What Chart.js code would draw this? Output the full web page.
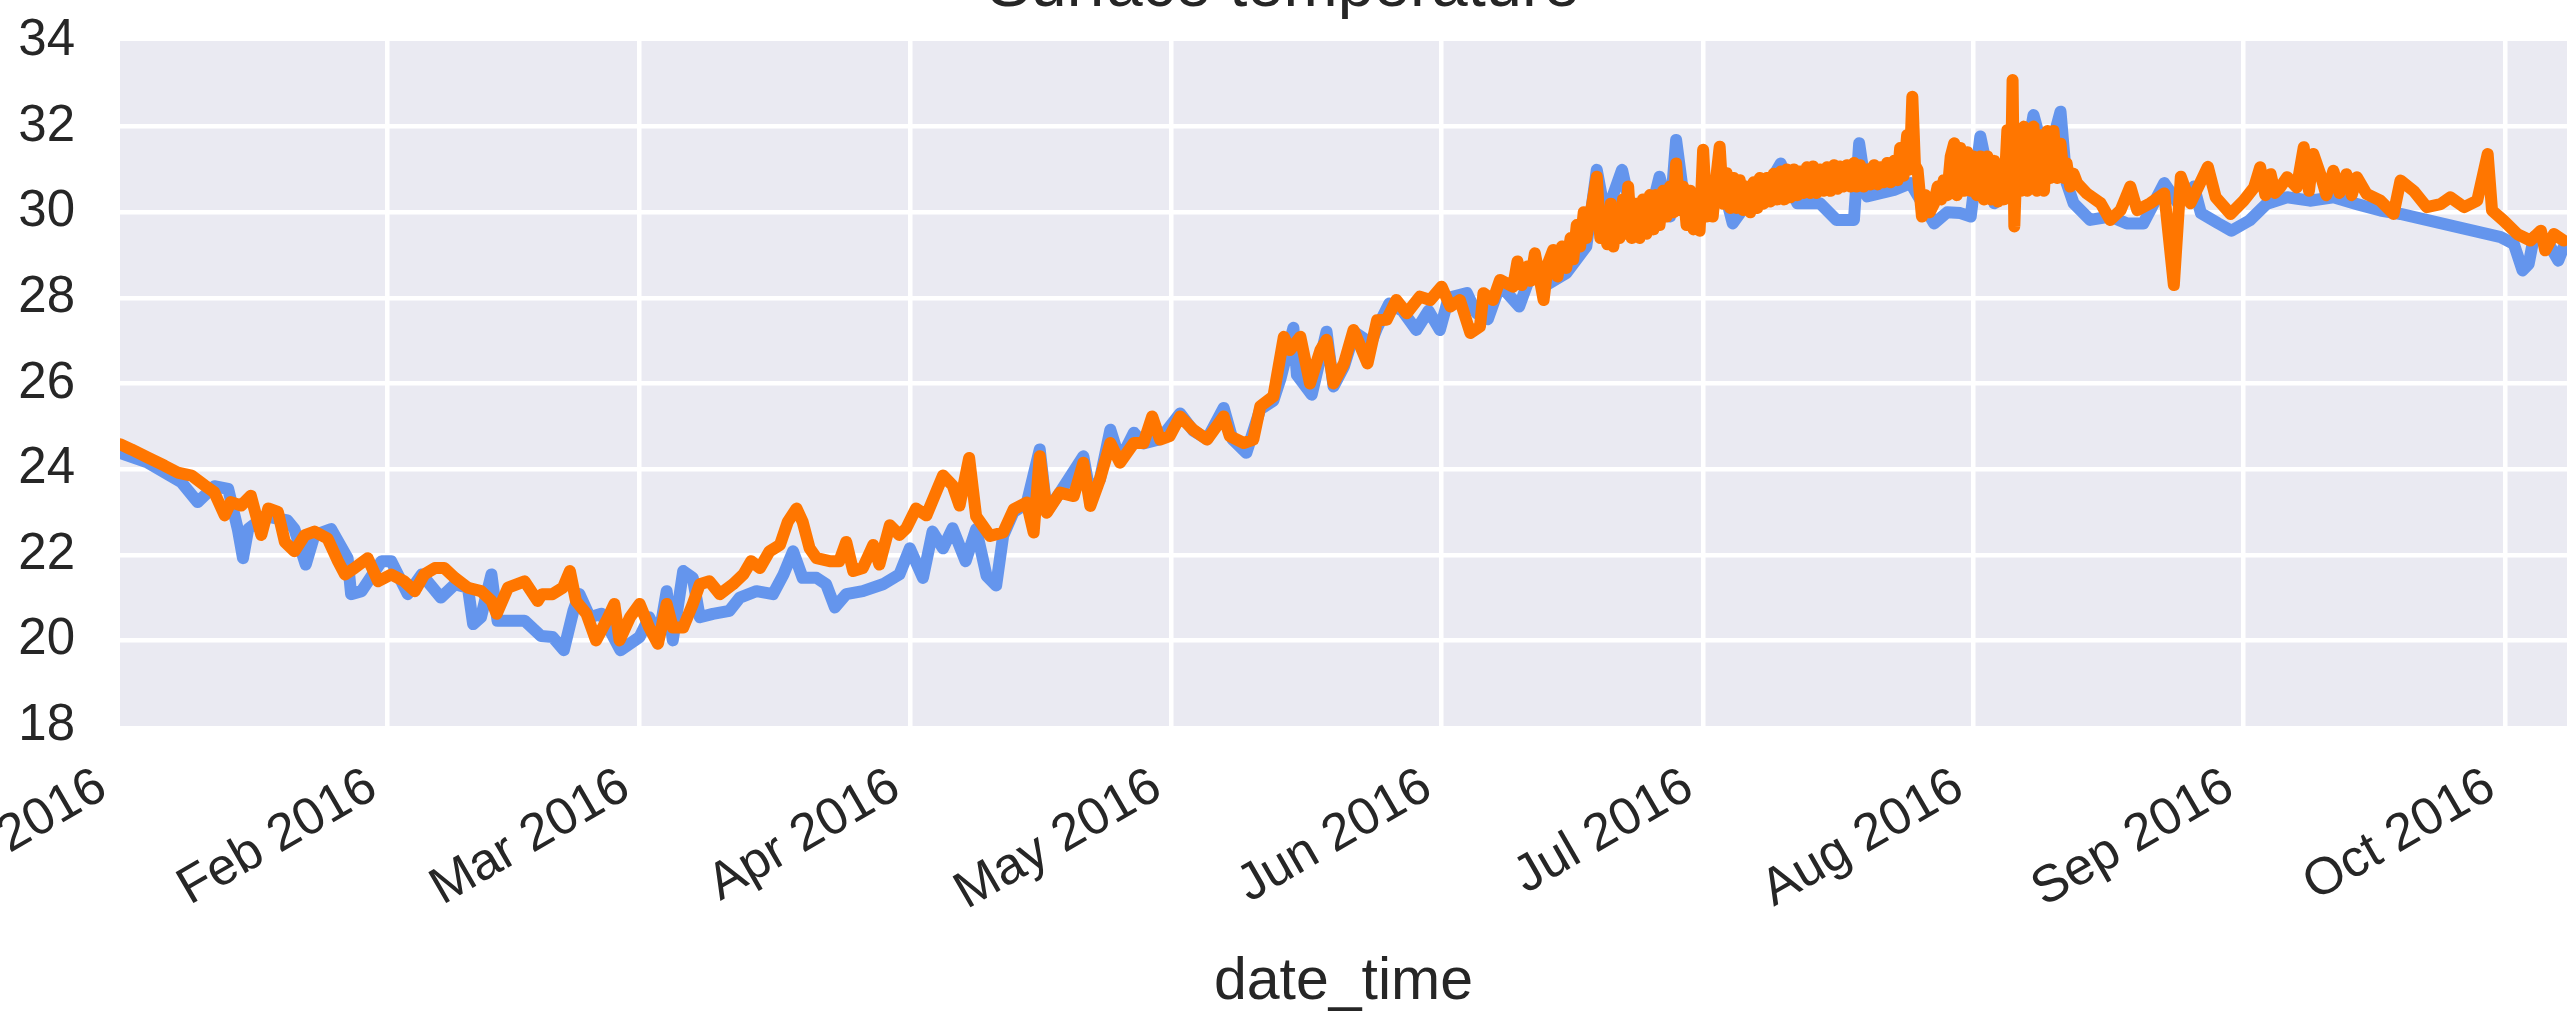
<!DOCTYPE html>
<html>
<head>
<meta charset="utf-8">
<title>Surface temperature</title>
<script src="https://cdn.jsdelivr.net/npm/chart.js@4.4.1/dist/chart.umd.min.js"></script>
<style>
  html, body { margin: 0; padding: 0; background: #fff; overflow: hidden; }
  #wrap { position: absolute; left: 0; top: -51px; width: 2569px; height: 1065px; }
</style>
</head>
<body>
<div id="wrap"><canvas id="chart"></canvas></div>
<script>
// x values are days since 2016-01-01 00:00
const monthTicks = [0, 31, 60, 91, 121, 152, 182, 213, 244, 274]
const monthLabels = ["Jan 2016", "Feb 2016", "Mar 2016", "Apr 2016", "May 2016",
  "Jun 2016", "Jul 2016", "Aug 2016", "Sep 2016", "Oct 2016"]
const tempTicks = [18, 20, 22, 24, 26, 28, 30, 32, 34]

const blueDays = [
  0.4, 3.6, 7.4, 9.3, 11.2, 12.8, 13.9, 14.5, 15.1, 17.0, 19.6, 20.4, 21.7, 22.7, 24.6, 26.5, 26.9, 28.1,
  30.4, 31.5, 33.4, 35.0, 37.2, 38.8, 40.3, 40.9, 41.8, 43.0, 43.7, 46.8, 48.7, 50.0, 51.3, 52.4, 53.1,
  54.3, 55.6, 57.8, 60.0, 61.1, 62.2, 63.1, 63.8, 65.0, 66.1, 66.9, 68.4, 70.3, 71.5, 73.4, 75.3, 76.5,
  77.6, 78.7, 80.3, 81.4, 82.4, 83.7, 85.6, 87.9, 89.8, 91.0, 92.5, 93.6, 94.8, 95.9, 97.4, 98.6, 99.8,
  100.9, 101.7, 102.9, 104.4, 105.9, 106.7, 108.2, 110.9, 111.7, 112.8, 114.0, 115.1, 116.7, 117.8,
  119.7, 122.0, 123.5, 125.1, 127.0, 128.0, 129.6, 131.2, 132.7, 133.5, 135.0, 135.4, 137.1, 138.8,
  139.6, 140.8, 142.0, 143.9, 144.6, 146.0, 147.5, 149.1, 150.5, 151.8, 152.8, 154.9, 156.0, 157.3,
  158.7, 160.9, 162.5, 164.0, 166.3, 168.6, 169.8, 170.8, 172.7, 174.0, 175.5, 177.0, 178.2, 178.9,
  179.8, 181.2, 182.7, 184.3, 185.4, 187.0, 188.5, 190.9, 192.8, 195.4, 197.3, 199.3, 199.9, 200.8,
  203.9, 205.8, 208.5, 210.0, 211.5, 212.7, 213.8, 215.4, 217.5, 218.5, 219.9, 221.4, 223.0, 223.7,
  224.5, 226.4, 228.7, 230.6, 232.5, 234.9, 236.5, 238.3, 239.1, 241.1, 242.6, 244.7, 246.6, 249.0,
  251.6, 254.3, 257.0, 259.7, 262.0, 273.5, 275.0, 276.0, 276.7, 277.3, 278.8, 280.1, 280.7
]
const blueTemps = [
  24.38, 24.15, 23.7, 23.23, 23.6, 23.54, 22.6, 21.92, 22.6, 22.9, 22.8, 22.6, 21.77, 22.46, 22.6, 21.92, 21.08, 21.15,
  21.85, 21.85, 21.08, 21.54, 21.0, 21.31, 21.23, 20.38, 20.54, 21.54, 20.46, 20.46, 20.1, 20.08, 19.77, 20.69, 21.08,
  20.54, 20.62, 19.77, 20.08, 20.54, 20.08, 21.15, 20.0, 21.62, 21.46, 20.54, 20.62, 20.69, 21.0, 21.15, 21.08, 21.54,
  22.08, 21.46, 21.46, 21.31, 20.77, 21.08, 21.15, 21.31, 21.54, 22.15, 21.46, 22.54, 22.15, 22.62, 21.85, 22.6, 21.51,
  21.28, 22.44, 23.0, 23.2, 24.46, 23.0, 23.45, 24.3, 23.4, 23.76, 24.92, 24.2, 24.85, 24.6,
  24.7, 25.3, 24.9, 24.7, 25.43, 24.7, 24.38, 25.4, 25.6, 26.1, 27.3, 26.2, 25.74, 27.21,
  25.93, 26.4, 27.2, 26.94, 27.3, 27.87, 27.7, 27.25, 27.7, 27.25, 28.0, 28.11, 27.64, 27.5,
  28.3, 27.8, 28.7, 28.3, 28.58, 29.2, 30.99, 29.9, 30.99, 29.8, 29.6, 30.83, 29.9, 31.69,
  30.3, 29.9, 30.1, 30.6, 29.74, 30.2, 30.3, 31.14, 30.21, 30.21, 29.82, 29.82, 31.61, 30.37,
  30.52, 30.68, 29.74, 30.0, 29.98, 29.9, 31.77, 30.21, 30.5, 30.6, 32.27, 31.14, 32.35, 30.68,
  30.21, 29.82, 29.9, 29.74, 29.74, 30.68, 30.2, 30.6, 29.98, 29.74, 29.57, 29.81, 30.19, 30.35,
  30.27, 30.35, 30.19, 30.04, 29.96, 29.42, 29.26, 28.64, 28.79, 29.42, 29.34, 28.87, 29.18
]

const orangeDays = [
  0.4, 1.7, 3.6, 5.5, 7.0, 8.6, 10.1, 11.2, 12.4, 13.1, 14.3, 15.4, 16.6, 17.4, 18.5, 19.3, 20.4, 21.6,
  22.7, 24.2, 25.4, 26.2, 27.3, 28.8, 30.0, 31.5, 33.0, 34.2, 35.3, 36.5, 37.6, 38.8, 40.3, 41.8, 43.0,
  43.6, 44.9, 46.8, 48.3, 48.8, 50.0, 51.2, 52.0, 52.7, 53.9, 55.0, 56.2, 57.1, 57.7, 58.9, 60.0, 61.1,
  62.1, 63.1, 63.8, 65.0, 66.1, 66.9, 68.0, 69.2, 70.7, 71.9, 72.8, 73.8, 74.9, 76.1, 77.0, 78.0, 78.7,
  79.5, 80.3, 81.8, 82.9, 83.7, 84.5, 85.6, 86.8, 87.5, 88.7, 89.8, 90.6, 91.7, 92.9, 94.8, 95.9, 96.7,
  97.8, 98.6, 100.2, 101.7, 102.9, 104.4, 105.2, 105.9, 106.7, 108.2, 109.8, 110.9, 111.7, 112.8, 114.0,
  115.1, 116.7, 117.8, 118.8, 119.7, 120.8, 122.0, 123.5, 125.1, 127.0, 127.7, 129.3, 130.4, 131.2,
  132.7, 133.1, 133.9, 134.6, 135.8, 136.9, 138.1, 138.8, 139.6, 140.8, 141.9, 143.5, 144.6, 145.7,
  146.8, 148.0, 149.5, 150.7, 152.0, 153.0, 154.1, 155.3, 156.4, 156.8, 157.9, 158.7,
  160.2, 160.7, 161.2, 161.8, 162.2, 162.7, 163.2, 163.7, 164.2, 164.8,
  165.3, 165.8, 166.3, 166.8, 167.1, 167.5, 167.9, 168.3, 168.6, 169.2,
  169.8, 170.2, 170.5, 171.0, 171.4, 171.7, 172.1, 172.4, 172.8, 173.1,
  173.4, 173.8, 174.3, 174.7, 175.1, 175.5, 175.9, 176.3, 176.6, 177.0,
  177.4, 177.8, 178.2, 178.6, 178.9, 179.3, 179.7, 180.1, 180.5, 180.9,
  181.2, 181.6, 182.0, 182.4, 182.7, 183.1, 183.5, 183.9, 184.3, 184.7,
  185.1, 185.5, 185.8, 186.2, 186.6, 187.0, 187.4, 187.8, 188.2, 188.5,
  188.9, 189.3, 189.7, 190.1, 190.5, 190.9, 191.3, 191.6, 192.0, 192.4,
  192.8, 193.1, 193.5, 193.9, 194.3, 194.6, 195.0, 195.4, 195.8, 196.2,
  196.6, 197.0, 197.4, 197.7, 198.1, 198.5, 198.9, 199.3, 199.6, 200.0,
  200.4, 200.8, 201.2, 201.6, 202.0, 202.3, 202.7, 203.1, 203.5, 203.9,
  204.3, 204.6, 205.0, 205.4, 205.7, 206.0, 206.3, 206.6, 207.1, 207.5,
  208.0, 208.5, 208.9, 209.3, 209.6, 210.0, 210.4, 210.8, 211.1, 211.5,
  211.9, 212.3, 212.7, 213.0, 213.4, 213.8, 214.2, 214.6, 215.0, 215.4,
  215.8, 216.1, 216.5, 216.9, 217.3, 217.5, 217.7, 218.0, 218.4, 218.8,
  219.2, 219.6, 219.9, 220.3, 220.7, 221.1, 221.5, 221.8, 222.2, 222.6,
  223.0, 223.4, 223.7, 224.1, 224.5, 224.9,
  226.0, 227.6, 228.7, 229.9, 231.0, 231.8, 233.3, 234.9, 236.0, 236.8, 237.9, 239.9, 240.8,
  242.5, 244.0, 245.2, 245.9, 246.5, 247.1, 247.6, 248.2, 249.0, 250.1, 250.9, 251.5, 252.0, 252.8,
  253.5, 254.3, 255.0, 255.8, 256.4, 257.0,
  258.1, 259.7, 261.2, 262.0, 263.5, 265.0, 266.6, 267.7, 269.3, 270.8, 272.0, 272.5, 273.8, 275.4,
  276.9, 278.1, 278.6, 279.6, 280.7
]
const orangeTemps = [
  24.58, 24.46, 24.27, 24.08, 23.92, 23.85, 23.62, 23.46, 22.92, 23.23, 23.15, 23.38, 22.46, 23.08, 23.0, 22.3, 22.08, 22.46,
  22.54, 22.38, 21.85, 21.54, 21.69, 21.92, 21.38, 21.54, 21.38, 21.15, 21.54, 21.69, 21.69, 21.46, 21.23, 21.15, 20.92,
  20.62, 21.23, 21.38, 20.92, 21.08, 21.08, 21.23, 21.62, 20.92, 20.62, 20.0, 20.46, 20.85, 20.0, 20.54, 20.85, 20.3,
  19.92, 20.85, 20.3, 20.3, 20.85, 21.31, 21.38, 21.08, 21.31, 21.54, 21.85, 21.69, 22.08, 22.23, 22.77, 23.08, 22.77,
  22.15, 21.92, 21.85, 21.85, 22.3, 21.62, 21.69, 22.23, 21.77, 22.69, 22.46, 22.62, 23.08, 22.92, 23.85, 23.62, 23.15,
  24.26, 22.9, 22.44, 22.52, 23.06, 23.22, 22.52, 24.3, 22.98, 23.45, 23.37, 24.15, 23.14, 23.76, 24.61,
  24.15, 24.61, 24.61, 25.23, 24.69, 24.77, 25.23, 24.92, 24.69, 25.23, 24.77, 24.61, 24.69, 25.47,
  25.7, 26.16, 27.09, 26.78, 27.09, 26.0, 26.78, 27.02, 26.0, 26.47, 27.25, 26.47, 27.48, 27.49,
  27.95, 27.64, 28.03, 27.95, 28.26, 27.8, 27.95, 27.18, 27.33, 28.11, 27.95, 28.42,
  28.26, 28.85, 28.3, 28.73, 28.4, 29.04, 28.5, 27.95, 28.8, 29.12,
  28.5, 29.2, 28.7, 29.4, 28.9, 29.7, 29.2, 30.0, 29.4, 30.1,
  30.83, 29.4, 29.9, 29.25, 30.2, 29.2, 30.0, 29.4, 30.3, 29.5,
  30.6, 29.4, 30.2, 29.4, 30.3, 29.5, 30.4, 29.6, 30.4, 29.7,
  30.5, 29.9, 30.6, 30.0, 31.14, 30.05, 30.6, 29.7, 30.5, 29.6,
  30.4, 29.57, 31.46, 29.9, 30.7, 29.9, 30.8, 31.53, 30.2, 30.91,
  30.1, 30.8, 30.1, 30.75, 30.05, 30.6, 30.0, 30.7, 30.1, 30.8,
  30.2, 30.8, 30.25, 30.9, 30.3, 30.95, 30.3, 31.0, 30.35, 31.0,
  30.4, 30.95, 30.45, 31.05, 30.45, 31.07, 30.45, 31.0, 30.5, 31.05,
  30.5, 31.1, 30.55, 31.07, 30.6, 31.1, 30.6, 31.15, 30.6, 31.1,
  30.6, 31.0, 30.65, 31.1, 30.65, 31.05, 30.7, 31.15, 30.7, 31.2,
  30.75, 31.5, 30.85, 31.8, 31.0, 32.7, 31.1, 30.99, 29.9, 30.4,
  30.0, 30.21, 30.6, 30.3, 30.75, 30.4, 31.3, 31.61, 30.4, 31.5,
  30.5, 31.4, 30.5, 31.3, 30.4, 31.3, 30.3, 31.3, 30.3, 31.2,
  30.25, 31.0, 30.3, 31.92, 30.6, 33.09, 29.67, 31.5, 30.5, 32.0,
  30.5, 31.9, 32.0, 30.5, 31.8, 30.5, 31.9, 30.8, 31.9, 30.8,
  31.6, 30.8, 31.14, 30.6, 30.9, 30.68,
  30.44, 30.21, 29.82, 30.05, 30.6, 30.05, 30.21, 30.44, 28.3, 30.83, 30.21, 31.06, 30.35,
  29.96, 30.27, 30.58, 31.05, 30.4, 30.89, 30.45, 30.58, 30.82, 30.58, 31.52, 30.5, 31.36, 30.89,
  30.4, 30.97, 30.45, 30.89, 30.4, 30.82,
  30.43, 30.27, 29.96, 30.74, 30.5, 30.12, 30.19, 30.35, 30.12, 30.27, 31.36, 30.04, 29.81, 29.49,
  29.34, 29.57, 29.11, 29.49, 29.34
]

const textColor = "#262626"
const fontFamily = "'Liberation Sans', Arial, Helvetica, sans-serif"

const toPoints = (days, temps) => days.map((d, i) => ({ x: d, y: temps[i] }))

// seaborn-style grey panel behind the plot
const panelBackground = {
  id: "panelBackground",
  beforeDraw(chart) {
    const { ctx, chartArea } = chart
    ctx.save()
    ctx.fillStyle = "#eaeaf2"
    ctx.fillRect(chartArea.left, chartArea.top, chartArea.width, chartArea.height)
    ctx.restore()
  }
}

new Chart(document.getElementById("chart"), {
  type: "line",
  data: {
    datasets: [
      {
        label: "blue",
        data: toPoints(blueDays, blueTemps),
        borderColor: "#6495ed",
        borderWidth: 12,
        order: 1
      },
      {
        label: "orange",
        data: toPoints(orangeDays, orangeTemps),
        borderColor: "#ff7600",
        borderWidth: 12,
        order: 0
      }
    ]
  },
  options: {
    responsive: true,
    maintainAspectRatio: false,
    animation: false,
    events: [],
    layout: { padding: { left: 0, right: 2, top: 0, bottom: 0 } },
    elements: {
      point: { radius: 0 },
      line: { tension: 0, fill: false, borderJoinStyle: "round", borderCapStyle: "round" }
    },
    plugins: {
      legend: { display: false },
      tooltip: { enabled: false },
      title: {
        display: true,
        text: "Surface temperature",
        color: textColor,
        font: { family: fontFamily, size: 65, weight: "normal", lineHeight: 1.2 },
        padding: { top: 0, bottom: 14 }
      }
    },
    scales: {
      x: {
        type: "linear",
        bounds: "data",
        min: 0.39,
        max: 281.1,
        afterBuildTicks: (scale) => {
          scale.ticks = monthTicks.map(v => ({ value: v }))
        },
        afterFit: (scale) => {
          scale.height = 288
          scale.paddingLeft = 0
          scale.paddingRight = 0
        },
        ticks: {
          autoSkip: false,
          minRotation: 30,
          maxRotation: 30,
          padding: 30,
          labelOffset: -14,
          color: textColor,
          font: { family: fontFamily, size: 52 },
          callback: (value, index) => monthLabels[index]
        },
        grid: { color: "#ffffff", lineWidth: 4.5, drawTicks: false },
        border: { display: false },
        title: {
          display: true,
          text: "date_time",
          color: textColor,
          font: { family: fontFamily, size: 59, lineHeight: 1 },
          padding: { top: 0, bottom: 2 }
        }
      },
      y: {
        type: "linear",
        min: 18,
        max: 34,
        afterBuildTicks: (scale) => {
          scale.ticks = tempTicks.map(v => ({ value: v }))
        },
        afterFit: (scale) => {
          scale.width = 120
          scale.paddingTop = 0
          scale.paddingBottom = 0
        },
        ticks: {
          padding: 45,
          color: textColor,
          font: { family: fontFamily, size: 51 },
          callback: (value) => String(value)
        },
        grid: {
          color: (ctx) => (ctx.tick && (ctx.tick.value === 18 || ctx.tick.value === 34)) ? "rgba(0,0,0,0)" : "#ffffff",
          lineWidth: 4.5,
          drawTicks: false
        },
        border: { display: false }
      }
    }
  },
  plugins: [panelBackground]
})
</script>
</body>
</html>
